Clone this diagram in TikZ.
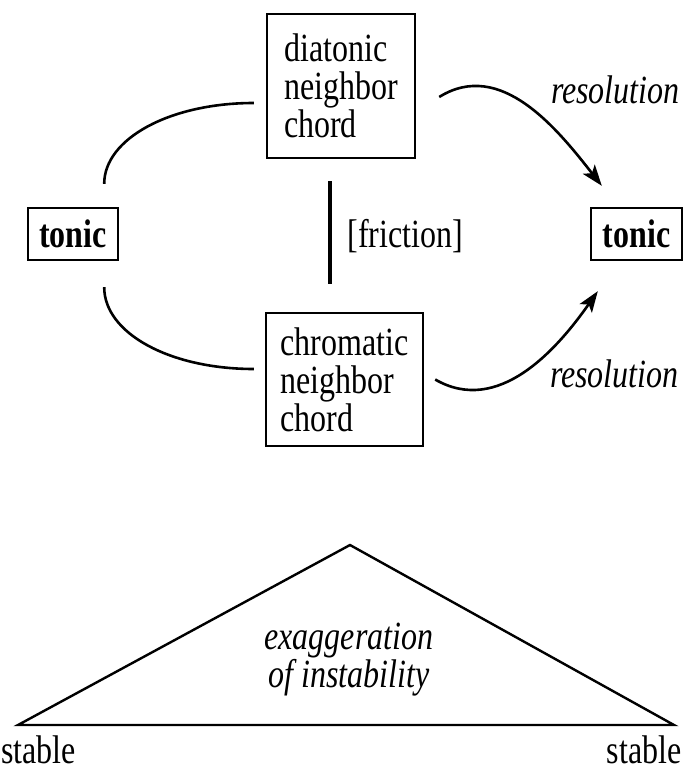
\documentclass[tikz,border=0pt]{standalone}
\usepackage{fontspec}
\setmainfont{Liberation Serif}[FakeStretch=0.8]
\usetikzlibrary{arrows.meta}
\begin{document}
\begin{tikzpicture}[
    x=0.5pt, y=0.5pt,
    every node/.style={font=\fontsize{20}{19}\selectfont, inner sep=0pt},
    itl/.style={font=\fontsize{20}{19}\selectfont\itshape},
    box/.style={draw, line width=1.2pt, align=left},
    link/.style={line width=1.3pt},
    arrow/.style={link, -{Stealth[length=10.5pt,width=7.5pt,inset=2.5pt]}},
    bar/.style={line width=2.3pt}
]
  \useasboundingbox (0,0) rectangle (684,-771);

  % Chord boxes
  \node[box, minimum width=45pt, minimum height=26pt] (tonicL) at (73,-234) {\textbf{tonic}};
  \node[box, minimum width=45.5pt, minimum height=26pt] (tonicR) at (636.5,-234) {\textbf{tonic}};
  \node[box, minimum width=74pt, minimum height=72pt] (diatonic) at (341,-86) {diatonic\\neighbor\\chord};
  \node[box, minimum width=78.5pt, minimum height=66.5pt] (chromatic) at (344.5,-379.5) {chromatic\\neighbor\\chord};

  % Labels
  \node[anchor=base west] (friction) at (347,-247) {[friction]};
  \node[itl, anchor=base east] (resUp) at (680,-103) {resolution};
  \node[itl, anchor=base east] (resDown) at (679,-387) {resolution};

  % Neighbor motion and friction
  \draw[link] ([shift={(-15,23)}]tonicL.north east) .. controls +(0,45) and +(-84,0) .. ([shift={(-12,-17)}]diatonic.west);
  \draw[link] ([shift={(-15,-26)}]tonicL.south east) .. controls +(0,-46) and +(-84,0) .. ([shift={(-11,10.5)}]chromatic.west);
  \draw[bar] ([shift={(-11,-22)}]diatonic.south) -- ([shift={(-14.5,28)}]chromatic.north);

  % Resolution arrows
  \draw[arrow] ([shift={(23,-11)}]diatonic.east) to[out=32,in=128] ([shift={(12,21)}]tonicR.north west);
  \draw[arrow] ([shift={(11,0)}]chromatic.east) to[out=-30,in=-125] ([shift={(8,-30)}]tonicR.south west);

  % Stability curve
  \coordinate (apex) at (350,-545);
  \coordinate (baseL) at (18,-725);
  \coordinate (baseR) at (674,-725);
  \draw[link, line width=1.2pt] (baseL) -- (apex) -- (baseR) -- cycle;
  \node[itl, align=center] (instab) at (349,-660) {exaggeration\\of instability};
  \node[anchor=base west] (stableL) at (1,-763) {stable};
  \node[anchor=base east] (stableR) at (682,-763) {stable};
\end{tikzpicture}
\end{document}
